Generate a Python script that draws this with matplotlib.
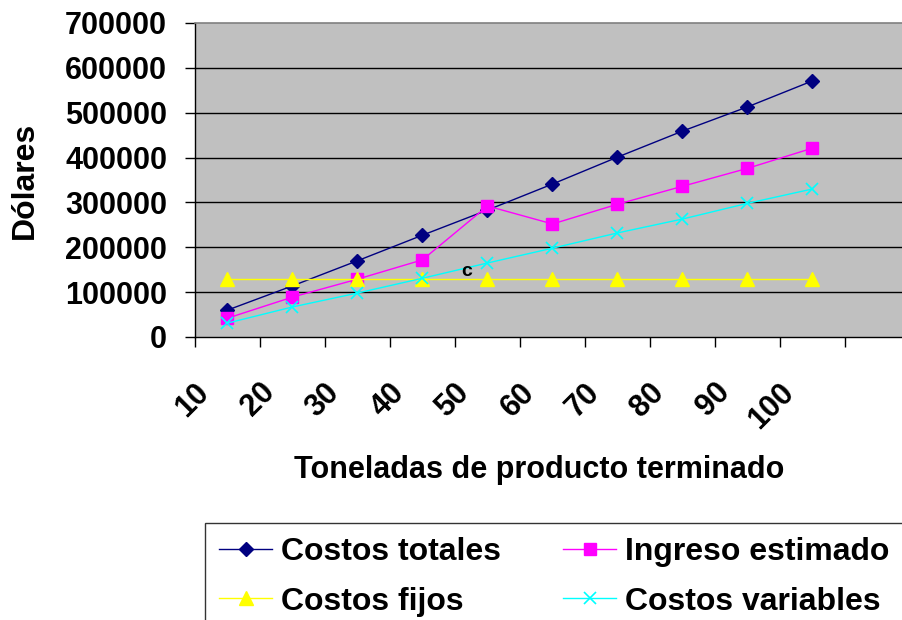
import numpy as np
import matplotlib.pyplot as plt
from matplotlib.transforms import ScaledTranslation

# ------------------------------------------------------------
# Data
# ------------------------------------------------------------
toneladas = ["10", "20", "30", "40", "50", "60", "70", "80", "90", "100"]

costos_totales = [60000, 114000, 170000, 227000, 283000, 341000, 401000, 459000, 513000, 571000]
ingreso_estimado = [42000, 89000, 129000, 172000, 292000, 252000, 296000, 336000, 376000, 421000]
costos_fijos = [130000] * 10
costos_variables = [31000, 67000, 98000, 131000, 165000, 198000, 232000, 263000, 298000, 330000]

y_ticks = [0, 100000, 200000, 300000, 400000, 500000, 600000, 700000]

# ------------------------------------------------------------
# Figure
# ------------------------------------------------------------
plt.rcParams["font.family"] = ["Liberation Sans", "DejaVu Sans"]
plt.rcParams["font.weight"] = "bold"

fig = plt.figure(figsize=(9.03, 6.20), dpi=100)
ax = fig.add_axes([195 / 903, 1 - 337 / 620, 715 / 903, 314 / 620])
ax.set_facecolor("#C0C0C0")

x = np.arange(len(toneladas))

l_tot, = ax.plot(x, costos_totales, color="#000080", lw=1, marker="D", ms=7,
                 mec="#000080", mfc="#000080", label="Costos totales", zorder=3)
l_ing, = ax.plot(x, ingreso_estimado, color="#FF00FF", lw=1, marker="s", ms=8,
                 mec="#FF00FF", mfc="#FF00FF", label="Ingreso estimado", zorder=3)
l_fij, = ax.plot(x, costos_fijos, color="#FFFF00", lw=1, marker="^", ms=10,
                 mec="#FFFF00", mfc="#FFFF00", label="Costos fijos", zorder=3)
l_var, = ax.plot(x, costos_variables, color="#00FFFF", lw=1, marker="x", ms=9,
                 mew=1.2, label="Costos variables", zorder=3)

ax.text(3.68, 145000, "c", fontsize=14, fontweight="bold",
        ha="center", va="center", zorder=4)

# axes limits & grid
ax.set_xlim(-0.5, 10.5)
ax.set_ylim(0, 700000)
ax.set_yticks(y_ticks)
ax.set_yticklabels([str(v) for v in y_ticks], fontsize=22, fontweight="bold")
for v in y_ticks[1:-1]:
    ax.axhline(v, color="black", lw=1, zorder=1)

ax.tick_params(axis="y", direction="out", length=7, width=1, pad=13)

# category labels at centers, tick marks on boundaries
ax.set_xticks(x)
ax.set_xticklabels(toneladas, fontsize=22, fontweight="bold", rotation=45,
                   ha="right", va="top")
ax.set_xticks(np.arange(-0.5, 10.6, 1.0), minor=True)
ax.tick_params(axis="x", which="major", length=0, pad=29)
ax.tick_params(axis="x", which="minor", direction="out", length=7, width=1)
shift = ScaledTranslation(-12 / 100, 0, fig.dpi_scale_trans)
for lab in ax.get_xticklabels():
    lab.set_transform(lab.get_transform() + shift)

for side in ["left", "bottom"]:
    ax.spines[side].set_color("black")
    ax.spines[side].set_linewidth(1)
ax.spines["top"].set_color("#808080")
ax.spines["top"].set_linewidth(1.2)
ax.spines["right"].set_visible(False)

fig.text(25 / 903, 1 - 180 / 620, "Dólares", fontsize=23, fontweight="bold",
         rotation=90, ha="center", va="center")
fig.text(539 / 903, 1 - 470 / 620, "Toneladas de producto terminado",
         fontsize=22, fontweight="bold", ha="center", va="center")

# legend, filled row by row
leg = fig.legend([l_tot, l_fij, l_ing, l_var],
                 ["Costos totales", "Costos fijos", "Ingreso estimado", "Costos variables"],
                 loc="upper left", bbox_to_anchor=(205 / 903, 1 - 523 / 620),
                 ncol=2, frameon=True, fancybox=False,
                 borderaxespad=0, handlelength=1.66, handletextpad=0.28,
                 columnspacing=1.93, labelspacing=0.6, borderpad=0.45,
                 prop={"weight": "bold", "size": 23})
leg.get_frame().set_edgecolor("black")
leg.get_frame().set_linewidth(1)

fig.savefig("out.png", dpi=100)
